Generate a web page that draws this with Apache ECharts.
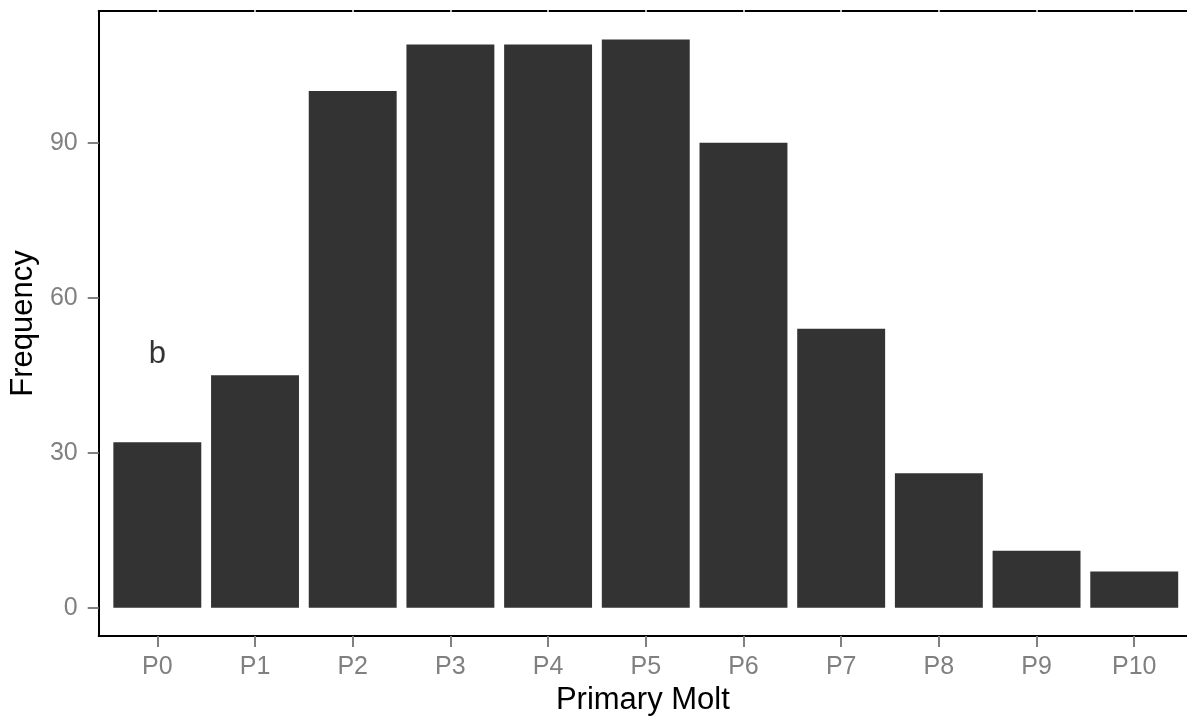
<!DOCTYPE html>
<html><head><meta charset="utf-8">
<script src="https://cdn.jsdelivr.net/npm/echarts@6/dist/echarts.min.js"></script>
<style>html,body{margin:0;padding:0;background:#fff}#c{width:1187px;height:721px}</style>
</head><body><div id="c"></div>
<script>
const categories = ['P0','P1','P2','P3','P4','P5','P6','P7','P8','P9','P10'];
const frequency = [32, 45, 100, 109, 109, 110, 90, 54, 26, 11, 7];
const yTicks = [0, 30, 60, 90];
const annotationText = 'b';
const annotationCategory = 'P0';
const annotationY = 49;

const xPos = categories.map((c, i) => i);
const font = '"Liberation Sans", Arial, sans-serif';
const gray = '#808080';
const chart = echarts.init(document.getElementById('c'), null, {renderer: 'canvas'});
chart.setOption({
  animation: false,
  backgroundColor: '#fff',
  textStyle: {fontFamily: font},
  grid: {left: 94, right: 0, top: 11, bottom: 81, containLabel: false},
  xAxis: [{
    type: 'value', min: -0.6, max: 10.54, position: 'bottom', z: 5,
    name: 'Primary Molt', nameLocation: 'middle', nameGap: 43,
    nameTextStyle: {fontSize: 31, color: '#000', fontFamily: font},
    axisLine: {show: true, onZero: false, lineStyle: {color: '#000', width: 2}},
    axisTick: {show: true, length: 11, customValues: xPos, lineStyle: {color: gray, width: 2}},
    axisLabel: {customValues: xPos, formatter: v => categories[Math.round(v)], fontSize: 25, color: gray, margin: 19, fontFamily: font},
    splitLine: {show: false}
  }, {
    type: 'value', min: -0.6, max: 10.54, position: 'top', z: 5,
    axisLine: {show: true, onZero: false, lineStyle: {color: '#000', width: 2}},
    axisTick: {show: true, inside: true, length: 3, customValues: xPos, lineStyle: {color: '#fff', width: 1.5}},
    axisLabel: {show: false}, splitLine: {show: false}
  }, {
    type: 'value', min: -0.6, max: 10.54, position: 'top', z: 6,
    axisLine: {show: false, onZero: false},
    axisTick: {show: true, inside: false, length: 3, customValues: xPos, lineStyle: {color: '#fff', width: 1.5}},
    axisLabel: {show: false}, splitLine: {show: false}
  }],
  yAxis: {
    type: 'value', min: -5.5, max: 115.5, z: 5,
    name: 'Frequency', nameLocation: 'middle', nameGap: 48, nameRotate: 90,
    nameTextStyle: {fontSize: 31, color: '#000', fontFamily: font},
    axisLine: {show: true, onZero: false, lineStyle: {color: '#000', width: 2}},
    axisTick: {show: true, length: 11, customValues: yTicks, lineStyle: {color: gray, width: 2}},
    axisLabel: {customValues: yTicks, fontSize: 25, color: gray, margin: 21, fontFamily: font},
    splitLine: {show: false}
  },
  series: [{
    type: 'bar', xAxisIndex: 0, yAxisIndex: 0,
    data: frequency.map((v, i) => [i, v]),
    barWidth: '90%',
    itemStyle: {color: '#333333'}
  }, {
    type: 'scatter', xAxisIndex: 0, yAxisIndex: 0,
    data: [[categories.indexOf(annotationCategory), annotationY]],
    symbol: 'circle', symbolSize: 1,
    itemStyle: {color: 'rgba(0,0,0,0)'},
    label: {show: true, position: 'inside', formatter: annotationText, fontSize: 31, color: '#000', fontFamily: font},
    silent: true
  }]
});
</script>
</body></html>
